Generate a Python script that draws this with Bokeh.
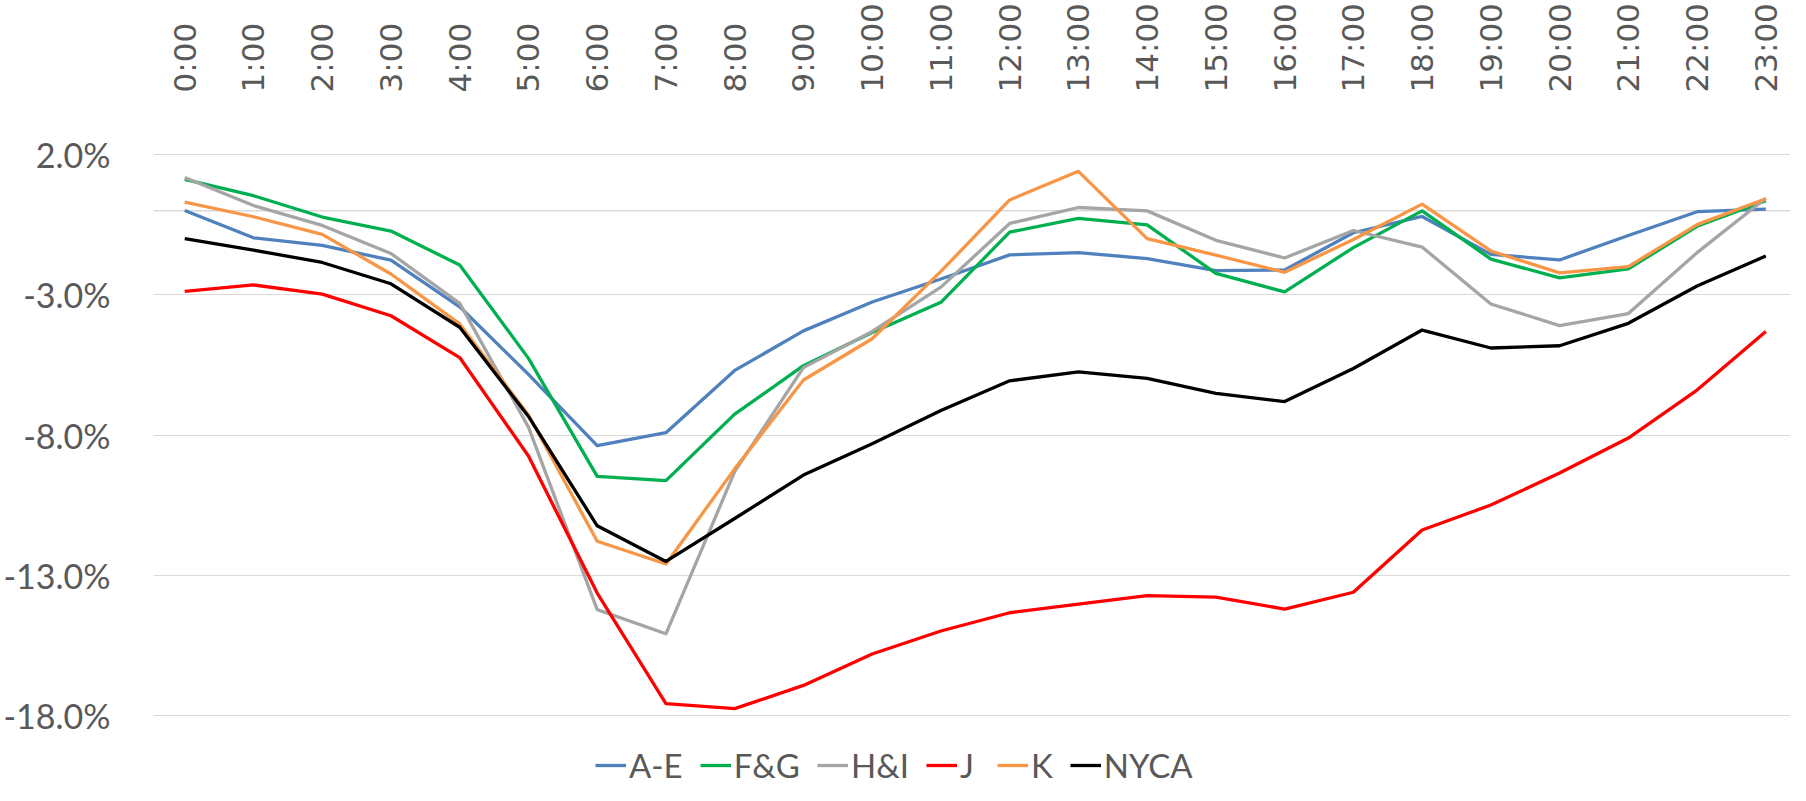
from bokeh.plotting import figure
from bokeh.models import Range1d, FixedTicker, Legend, LegendItem, Span, PrintfTickFormatter
from bokeh.embed import file_html
from bokeh.resources import INLINE

hours = list(range(24))
hour_labels = [f"{h}:00" for h in hours]

series_names = ["A-E", "F&G", "H&I", "J", "K", "NYCA"]
a_e = [0.01, -0.96, -1.23, -1.76, -3.42, -5.83, -8.37, -7.91, -5.69, -4.28, -3.25, -2.43,
       -1.57, -1.49, -1.70, -2.13, -2.11, -0.78, -0.20, -1.55, -1.75, -0.88, -0.03, 0.06]
f_g = [1.12, 0.54, -0.22, -0.72, -1.93, -5.26, -9.47, -9.62, -7.25, -5.52, -4.34, -3.26,
       -0.76, -0.27, -0.50, -2.23, -2.89, -1.31, 0.00, -1.72, -2.39, -2.07, -0.55, 0.36]
h_i = [1.19, 0.19, -0.52, -1.52, -3.30, -7.71, -14.22, -15.08, -9.30, -5.59, -4.30, -2.72,
       -0.45, 0.12, 0.00, -1.05, -1.68, -0.70, -1.29, -3.32, -4.09, -3.66, -1.49, 0.45]
j = [-2.87, -2.64, -2.97, -3.74, -5.23, -8.74, -13.63, -17.57, -17.75, -16.92, -15.80, -14.98,
     -14.33, -14.02, -13.72, -13.77, -14.20, -13.60, -11.38, -10.49, -9.35, -8.10, -6.39, -4.30]
k = [0.31, -0.21, -0.84, -2.25, -4.03, -7.28, -11.78, -12.59, -9.20, -6.03, -4.56, -2.16,
     0.39, 1.41, -0.99, -1.58, -2.19, -1.02, 0.24, -1.43, -2.21, -1.99, -0.49, 0.43]
nyca = [-0.99, -1.40, -1.84, -2.60, -4.15, -7.33, -11.23, -12.50, -10.97, -9.42, -8.30, -7.12,
        -6.06, -5.74, -5.97, -6.51, -6.80, -5.62, -4.25, -4.89, -4.81, -4.01, -2.68, -1.61]
colors = ["#4F81BD", "#00B050", "#A5A5A5", "#FF0000", "#F79646", "#000000"]
y_ticks = [2, -3, -8, -13, -18]

# frame spans from canvas y=144 to the bottom (785); 28.4 px per percentage point
p = figure(width=1790, height=785, output_backend="svg", toolbar_location=None,
           x_range=Range1d(-0.4545, 23.359), y_range=Range1d(-20.49, 2.081),
           x_axis_location="above",
           min_border_left=150, min_border_right=0, min_border_top=144, min_border_bottom=0)
p.outline_line_color = None
p.background_fill_color = "white"
p.border_fill_color = "white"

# x axis (top)
xa = p.xaxis[0]
xa.ticker = FixedTicker(ticks=hours)
xa.major_label_overrides = {h: lab for h, lab in zip(hours, hour_labels)}
xa.major_label_orientation = "vertical"
xa.major_label_text_font = "DejaVu Sans"
xa.major_label_text_font_size = "31px"
xa.major_label_text_color = "#595959"
xa.major_label_standoff = 54
xa.axis_line_color = None
xa.major_tick_line_color = None
xa.minor_tick_line_color = None

# y axis
ya = p.yaxis[0]
ya.ticker = FixedTicker(ticks=y_ticks)
ya.formatter = PrintfTickFormatter(format="%.1f%%")
ya.major_label_text_font = "Lato"
ya.major_label_text_font_size = "34px"
ya.major_label_text_color = "#595959"
ya.major_label_standoff = 37
ya.axis_line_color = None
ya.major_tick_line_color = None
ya.minor_tick_line_color = None

p.xgrid.visible = False
p.ygrid.grid_line_color = "#D9D9D9"
p.ygrid.grid_line_width = 1

p.add_layout(Span(location=0, dimension="width", line_color="#D9D9D9",
                  line_width=1.5, level="underlay"))

renderers = []
for name, vals, col in zip(series_names, [a_e, f_g, h_i, j, k, nyca], colors):
    r = p.line(hours, vals, line_color=col, line_width=3.3, line_join="round")
    renderers.append((name, r))

legend = Legend(items=[LegendItem(label=n, renderers=[r]) for n, r in renderers],
                orientation="horizontal", location=(442, 0),
                glyph_width=31, glyph_height=24, label_height=24,
                label_standoff=3, spacing=17,
                padding=0, margin=0, border_line_color=None, background_fill_alpha=0,
                label_text_font="Lato", label_text_font_size="33px",
                label_text_color="#595959")
p.add_layout(legend, "center")

open("out.html", "w").write(file_html(p, INLINE))
